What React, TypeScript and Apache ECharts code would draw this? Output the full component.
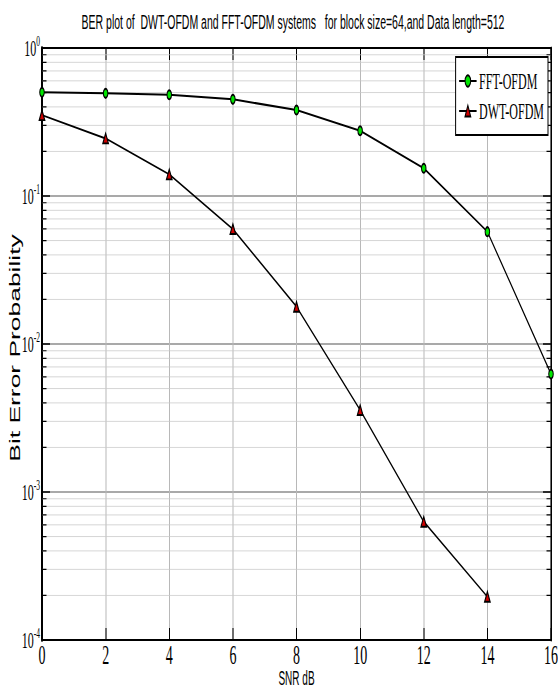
import { useEffect, useRef } from "react";
import * as echarts from "echarts";

// ---- data ----
const snrValues = [0, 2, 4, 6, 8, 10, 12, 14, 16];
const fftBer = [0.502, 0.494, 0.483, 0.45, 0.381, 0.276, 0.154, 0.0574, 0.00627];
const dwtBer = [0.352, 0.245, 0.14, 0.0598, 0.01786, 0.00358, 0.00063, 0.000196];
const seriesNames = ["FFT-OFDM", "DWT-OFDM"];
const decadeStarts = [0.0001, 0.001, 0.01, 0.1];
const minorMultipliers = [2, 3, 4, 5, 6, 7, 8, 9];
const titleText =
  "BER plot of  DWT-OFDM and FFT-OFDM systems   for block size=64,and Data length=512";
const xAxisName = "SNR dB";
const yAxisName = "Bit Error Probability";

// ---- layout ----
const W = 558;
const H = 690;
const SQUISH = 0.5; // the original figure is horizontally compressed
const IW = W / SQUISH;
const GRID = { left: 84, right: 14, top: 48, bottom: 50 };
const X_MIN = 0;
const X_MAX = 16;

const SANS = "'Liberation Sans', Arial, sans-serif";
const SERIF = "'Liberation Serif', 'Times New Roman', serif";

export default function App() {
  const ref = useRef<HTMLDivElement>(null);

  useEffect(() => {
    if (!ref.current) return;
    const chart = echarts.init(ref.current, undefined, { renderer: "svg" });

    const minorValues = decadeStarts.flatMap((d) =>
      minorMultipliers.map((m) => Number((d * m).toPrecision(3)))
    );
    const plotW = IW - GRID.left - GRID.right;
    const tickUnits = ((X_MAX - X_MIN) * 9) / plotW;
    const gap = ["-", "-"];

    const minorGridData = minorValues.flatMap((v) => [[X_MIN, v], [X_MAX, v], gap]);
    const minorTickData = minorValues.flatMap((v) => [
      [X_MIN, v],
      [X_MIN + tickUnits, v],
      gap,
      [X_MAX - tickUnits, v],
      [X_MAX, v],
      gap,
    ]);

    const yLabelFormatter = (val: number) => {
      const e = Math.round(Math.log10(val));
      return `{b|10}{e|${e}}`;
    };

    const option: any = {
      animation: false,
      backgroundColor: "#ffffff",
      tooltip: { show: false },
      grid: { ...GRID, show: false, containLabel: false, outerBoundsMode: "none" },
      legend: {
        data: seriesNames,
        orient: "vertical",
        right: 20,
        top: 57,
        padding: [12, 8, 12, 6],
        itemGap: 6,
        itemWidth: 35,
        itemHeight: 14,
        backgroundColor: "#ffffff",
        borderColor: "#000000",
        borderWidth: 2,
        z: 10,
        textStyle: { fontFamily: SERIF, fontSize: 24, color: "#000" },
      },
      xAxis: [
        {
          type: "value",
          min: X_MIN,
          max: X_MAX,
          interval: 2,
          position: "bottom",
          name: xAxisName,
          nameLocation: "middle",
          nameGap: 28,
          nameMoveOverlap: false,
          nameTextStyle: { fontFamily: SANS, fontSize: 20, color: "#000", lineHeight: 20 },
          axisLine: { show: true, onZero: false, lineStyle: { color: "#000", width: 2 } },
          axisTick: { show: true, inside: true, length: 12, lineStyle: { color: "#000", width: 2 } },
          axisLabel: {
            color: "#000",
            fontFamily: SERIF,
            fontSize: 28,
            lineHeight: 24,
            margin: 2,
          },
          splitLine: { show: true, lineStyle: { color: "#b8b8b8", width: 2 } },
        },
        {
          type: "value",
          min: X_MIN,
          max: X_MAX,
          interval: 2,
          position: "top",
          axisLine: { show: true, onZero: false, lineStyle: { color: "#000", width: 2 } },
          axisTick: { show: true, inside: true, length: 12, lineStyle: { color: "#000", width: 2 } },
          axisLabel: { show: false },
          splitLine: { show: false },
        },
      ],
      yAxis: [
        {
          type: "log",
          logBase: 10,
          min: 0.0001,
          max: 1,
          position: "left",
          axisLine: { show: true, onZero: false, lineStyle: { color: "#000", width: 4 } },
          axisTick: { show: true, inside: true, length: 16, lineStyle: { color: "#000", width: 1.5 } },
          axisLabel: {
            margin: 4,
            formatter: yLabelFormatter,
            rich: {
              b: {
                fontFamily: SERIF,
                fontSize: 24,
                lineHeight: 30,
                color: "#000",
                verticalAlign: "middle",
              },
              e: {
                fontFamily: SERIF,
                fontSize: 15,
                lineHeight: 16,
                color: "#000",
                verticalAlign: "top",
              },
            },
          },
          splitLine: { show: true, lineStyle: { color: "#8c8c8c", width: 1.5 } },
          minorTick: { show: false },
          minorSplitLine: { show: false },
        },
        {
          type: "log",
          logBase: 10,
          min: 0.0001,
          max: 1,
          position: "right",
          axisLine: { show: true, onZero: false, lineStyle: { color: "#000", width: 3 } },
          axisTick: { show: true, inside: true, length: 16, lineStyle: { color: "#000", width: 1.5 } },
          axisLabel: { show: false },
          splitLine: { show: false },
        },
      ],
      series: [
        {
          name: "minor-grid",
          type: "line",
          xAxisIndex: 0,
          yAxisIndex: 0,
          z: 1,
          silent: true,
          symbol: "none",
          connectNulls: false,
          lineStyle: { color: "#c8c8c8", width: 1 },
          data: minorGridData,
        },
        {
          name: "minor-ticks",
          type: "line",
          xAxisIndex: 0,
          yAxisIndex: 0,
          z: 2,
          silent: true,
          symbol: "none",
          connectNulls: false,
          lineStyle: { color: "#000", width: 1.2 },
          data: minorTickData,
        },
        {
          name: seriesNames[0],
          type: "line",
          xAxisIndex: 0,
          yAxisIndex: 0,
          z: 3,
          data: snrValues.map((x, i) => [x, fftBer[i]]),
          symbol: "circle",
          symbolSize: 9,
          lineStyle: { color: "#000", width: 2 },
          itemStyle: { color: "#00e600", borderColor: "#000", borderWidth: 2 },
        },
        {
          name: seriesNames[1],
          type: "line",
          xAxisIndex: 0,
          yAxisIndex: 0,
          z: 3,
          data: dwtBer.map((v, i) => [snrValues[i], v]),
          symbol: "triangle",
          symbolSize: [11, 10],
          lineStyle: { color: "#000", width: 2 },
          itemStyle: { color: "#d00000", borderColor: "#000", borderWidth: 2 },
        },
      ],
      graphic: [
        {
          type: "text",
          x: 586,
          y: 12,
          style: {
            text: titleText,
            fontFamily: SANS,
            fontSize: 21,
            fill: "#000",
            align: "center",
            verticalAlign: "top",
          },
        },
        {
          type: "text",
          x: 30,
          y: 348,
          rotation: Math.PI / 2,
          scaleX: 0.88,
          style: {
            text: yAxisName,
            fontFamily: SANS,
            fontSize: 30,
            fill: "#000",
            align: "center",
            verticalAlign: "middle",
          },
        },
      ],
    };

    chart.setOption(option);
    return () => chart.dispose();
  }, []);

  return (
    <div
      style={{
        position: "fixed",
        left: 0,
        top: 0,
        width: W,
        height: H,
        overflow: "hidden",
        background: "#fff",
      }}
    >
      <div
        ref={ref}
        style={{
          width: IW,
          height: H,
          transform: `scaleX(${SQUISH})`,
          transformOrigin: "0 0",
        }}
      />
    </div>
  );
}
